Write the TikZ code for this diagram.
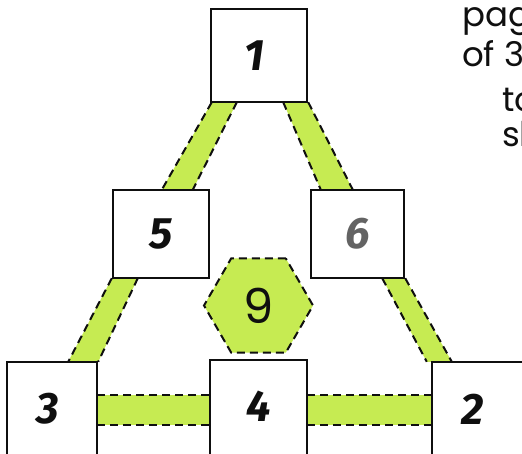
\documentclass[tikz,border=0pt]{standalone}
\usepackage{fontspec}
\setmainfont{Poppins}
\newfontfamily\hand{Fira Sans}
\usetikzlibrary{shapes.geometric,calc}
\definecolor{lime}{RGB}{198,235,82}
\definecolor{ink}{RGB}{15,15,15}
\tikzset{
  box/.style={draw=ink,line width=2.4pt,fill=white,inner sep=0pt,font=\hand\bfseries\itshape\fontsize{44}{44}\selectfont,text=ink},
  ghost/.style={draw=none,fill=none,inner sep=0pt},
  band/.style={fill=lime,draw=none},
  edge/.style={draw=ink,line width=2pt,dash pattern=on 8pt off 5pt},
  side/.style={anchor=base west,inner sep=0pt,font=\fontsize{34}{34}\selectfont,text=ink}
}
\begin{document}
\begin{tikzpicture}[x=1pt,y=-1pt]
\clip (0,0) rectangle (522,454);
\fill[white] (0,0) rectangle (522,454);
% anchors of the boxes
\path
  (259,55.5) node[ghost,minimum width=96pt,minimum height=93pt] (b1) {}
  (161,234) node[ghost,minimum width=96pt,minimum height=88pt] (b5) {}
  (357.5,234) node[ghost,minimum width=93pt,minimum height=88pt] (b6) {}
  (52,409) node[ghost,minimum width=90pt,minimum height=94pt] (b3) {}
  (258.5,408) node[ghost,minimum width=97pt,minimum height=96pt] (b4) {}
  (478,409) node[ghost,minimum width=92pt,minimum height=94pt] (b2) {};
% band 1-5
\coordinate (a1) at ($(b1.south west)+(1,0)$);
\coordinate (a2) at ($(b1.south west)+(26,0)$);
\coordinate (a3) at ($(b5.north west)+(80,0)$);
\coordinate (a4) at ($(b5.north west)+(49,0)$);
\fill[band] (a1) -- (a2) -- (a3) -- (a4) -- cycle;
\draw[edge] (a1) -- (a4); \draw[edge] (a2) -- (a3);
% band 1-6
\coordinate (c1) at ($(b1.south east)+(-24,0)$);
\coordinate (c2) at ($(b1.south east)+(1,0)$);
\coordinate (c3) at ($(b6.north west)+(42,0)$);
\coordinate (c4) at ($(b6.north west)+(10,0)$);
\fill[band] (c1) -- (c2) -- (c3) -- (c4) -- cycle;
\draw[edge] (c1) -- (c4); \draw[edge] (c2) -- (c3);
% band 5-3
\coordinate (d1) at ($(b5.south west)+(-1,0)$);
\coordinate (d2) at ($(b5.south west)+(25,0)$);
\coordinate (d3) at ($(b3.north east)+(1,0)$);
\coordinate (d4) at ($(b3.north east)+(-29,0)$);
\fill[band] (d1) -- (d2) -- (d3) -- (d4) -- cycle;
\draw[edge] (d1) -- (d4); \draw[edge] (d2) -- (d3);
% band 6-2
\coordinate (e1) at ($(b6.south east)+(-22,0)$);
\coordinate (e2) at ($(b6.south east)+(1,0)$);
\coordinate (e3) at ($(b2.north west)+(20,0)$);
\coordinate (e4) at ($(b2.north west)+(-5,0)$);
\fill[band] (e1) -- (e2) -- (e3) -- (e4) -- cycle;
\draw[edge] (e1) -- (e4); \draw[edge] (e2) -- (e3);
% band 3-4
\coordinate (f1) at (b3.east |- 0,395);
\coordinate (f2) at (b4.west |- 0,395);
\coordinate (f3) at (b4.west |- 0,425);
\coordinate (f4) at (b3.east |- 0,425);
\fill[band] (f1) -- (f2) -- (f3) -- (f4) -- cycle;
\draw[edge] (f1) -- (f2); \draw[edge] (f4) -- (f3);
% band 4-2
\coordinate (g1) at (b4.east |- 0,395);
\coordinate (g2) at (b2.west |- 0,395);
\coordinate (g3) at (b2.west |- 0,425);
\coordinate (g4) at (b4.east |- 0,425);
\fill[band] (g1) -- (g2) -- (g3) -- (g4) -- cycle;
\draw[edge] (g1) -- (g2); \draw[edge] (g4) -- (g3);
% boxes drawn on top
\node[box,minimum width=96pt,minimum height=93pt] (n1) at (b1) {\kern-10pt 1};
\node[box,minimum width=96pt,minimum height=88pt] (n5) at (b5) {5};
\node[box,minimum width=93pt,minimum height=88pt,text=ink!65] (n6) at (b6) {6};
\node[box,minimum width=90pt,minimum height=94pt] (n3) at (b3) {\kern-8pt 3};
\node[box,minimum width=97pt,minimum height=96pt] (n4) at (b4) {\raisebox{4pt}{4}};
\node[box,minimum width=92pt,minimum height=94pt] (n2) at (b2) {\kern-10pt 2};
% hexagon
\node[regular polygon,regular polygon sides=6,minimum size=109pt,inner sep=0pt,
  fill=lime,draw=ink,line width=2pt,dash pattern=on 8pt off 5pt,
  font=\fontsize{48}{48}\selectfont,text=ink] (h9) at (258.5,305.5) {9};
% side text
\node[side] (t1) at (462,27) {page};
\node[side] (t2) at (462,67) {of 3};
\node[side] (t3) at (502,112) {to};
\node[side] (t4) at (502,147) {sh};
\end{tikzpicture}
\end{document}
